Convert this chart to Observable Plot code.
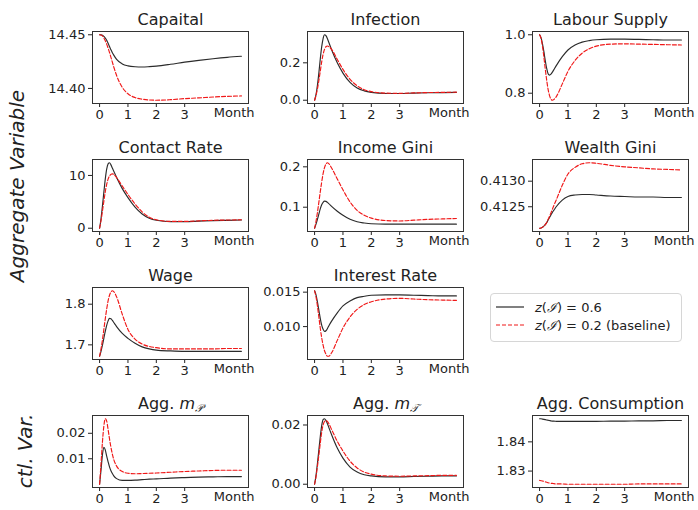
<!DOCTYPE html>
<html><head><meta charset="utf-8">
<script src="https://cdn.jsdelivr.net/npm/d3@7"></script>
<script src="https://cdn.jsdelivr.net/npm/@observablehq/plot@0.6"></script>
<style>
body{margin:0;background:#fff;}
#fig{position:relative;width:698px;height:510px;overflow:hidden;font-family:"DejaVu Sans",sans-serif;color:#222;}
</style></head><body><div id="fig"></div>
<script>
const months = [0,0.05,0.1,0.15,0.2,0.25,0.3,0.35,0.4,0.45,0.5,0.6,0.8,1,1.25,1.5,1.75,2,2.5,3,3.5,4,4.5,5];
const xTicks = [0,1,2,3];
const seriesNames = ["z(I) = 0.6","z(I) = 0.2 (baseline)"];

const capitalZ06 = [14.4500,14.4499,14.4495,14.4485,14.4470,14.4448,14.4420,14.4390,14.4360,14.4333,14.4310,14.4270,14.4228,14.4210,14.4202,14.4200,14.4203,14.4208,14.4225,14.4245,14.4262,14.4277,14.4290,14.4300];
const capitalZ02 = [14.4500,14.4498,14.4490,14.4470,14.4445,14.4413,14.4375,14.4335,14.4290,14.4245,14.4200,14.4120,14.4010,14.3950,14.3915,14.3900,14.3892,14.3890,14.3895,14.3905,14.3912,14.3920,14.3926,14.3930];
const infectionZ06 = [0,0.03,0.08,0.145,0.22,0.285,0.33,0.35,0.345,0.33,0.31,0.27,0.2,0.145,0.095,0.065,0.05,0.042,0.036,0.036,0.038,0.04,0.041,0.042];
const infectionZ02 = [0,0.025,0.06,0.105,0.155,0.205,0.245,0.272,0.286,0.29,0.287,0.272,0.218,0.165,0.112,0.077,0.056,0.046,0.038,0.037,0.039,0.041,0.042,0.043];
const labourZ06 = [1.0,0.99,0.97,0.943,0.912,0.885,0.867,0.862,0.865,0.872,0.88,0.896,0.925,0.948,0.965,0.975,0.980,0.983,0.985,0.985,0.984,0.983,0.982,0.982];
const labourZ02 = [1.0,0.988,0.962,0.925,0.883,0.845,0.813,0.792,0.78,0.776,0.778,0.79,0.832,0.875,0.912,0.937,0.952,0.961,0.968,0.969,0.968,0.967,0.966,0.965];
const contactZ06 = [0,1.8,4.2,6.8,9.3,11.2,12.2,12.4,12.0,11.4,10.8,9.6,7.5,5.8,4.0,2.7,1.9,1.5,1.25,1.25,1.35,1.45,1.5,1.55];
const contactZ02 = [0,1.4,3.2,5.1,6.9,8.3,9.3,9.9,10.2,10.3,10.2,9.6,8.0,6.4,4.6,3.1,2.1,1.6,1.3,1.3,1.4,1.5,1.55,1.6];
const incomeGiniZ06 = [0.048,0.058,0.07,0.083,0.096,0.106,0.112,0.115,0.1145,0.112,0.109,0.102,0.09,0.08,0.07,0.064,0.061,0.059,0.058,0.058,0.058,0.058,0.058,0.058];
const incomeGiniZ02 = [0.048,0.065,0.087,0.112,0.138,0.162,0.183,0.198,0.207,0.21,0.208,0.197,0.17,0.143,0.113,0.092,0.08,0.073,0.067,0.066,0.068,0.07,0.071,0.072];
const wealthGiniZ06 = [0.41208,0.412085,0.4121,0.41212,0.41215,0.41219,0.41224,0.41229,0.41234,0.41239,0.41243,0.41251,0.41263,0.4127,0.41273,0.41274,0.41274,0.41273,0.41271,0.4127,0.41269,0.41269,0.41268,0.41268];
const wealthGiniZ02 = [0.41208,0.412085,0.4121,0.41212,0.41215,0.41219,0.41225,0.41231,0.41238,0.41245,0.41252,0.41265,0.41292,0.41314,0.41327,0.41334,0.41336,0.41335,0.41331,0.41328,0.41326,0.41324,0.41323,0.41322];
const wageZ06 = [1.672,1.684,1.699,1.716,1.733,1.748,1.759,1.765,1.764,1.76,1.755,1.745,1.728,1.716,1.704,1.695,1.69,1.687,1.685,1.684,1.684,1.684,1.684,1.684];
const wageZ02 = [1.672,1.69,1.712,1.738,1.764,1.788,1.808,1.822,1.83,1.833,1.831,1.818,1.775,1.738,1.714,1.702,1.696,1.693,1.69,1.69,1.69,1.69,1.691,1.691];
const interestZ06 = [0.0152,0.0146,0.0136,0.0124,0.0112,0.0102,0.0096,0.0093,0.0094,0.0097,0.0101,0.0108,0.012,0.013,0.0137,0.0142,0.0144,0.01455,0.0146,0.0146,0.01455,0.0145,0.01445,0.01445];
const interestZ02 = [0.0152,0.0143,0.013,0.0114,0.0098,0.0084,0.0073,0.0065,0.006,0.0057,0.0057,0.0062,0.008,0.0098,0.0114,0.0125,0.0132,0.0136,0.014,0.0141,0.014,0.0139,0.01385,0.0138];
const mPZ06 = [0,0.0055,0.0115,0.0145,0.0135,0.011,0.0088,0.0068,0.0053,0.0042,0.0033,0.0022,0.0015,0.0015,0.0016,0.0018,0.002,0.0021,0.0024,0.0026,0.0028,0.0029,0.003,0.003];
const mPZ02 = [0,0.008,0.0165,0.0228,0.0257,0.0248,0.0215,0.0178,0.0145,0.0118,0.0097,0.0071,0.005,0.0043,0.0041,0.0042,0.0043,0.0044,0.0047,0.005,0.0052,0.0054,0.0055,0.0055];
const mTZ06 = [0,0.003,0.007,0.0115,0.016,0.0198,0.0218,0.0221,0.0215,0.0205,0.0192,0.0167,0.0122,0.0088,0.0058,0.0041,0.0032,0.0028,0.0025,0.0025,0.0026,0.0027,0.0028,0.0028];
const mTZ02 = [0,0.0025,0.006,0.0098,0.0138,0.0175,0.02,0.0212,0.0215,0.0212,0.0205,0.0185,0.0145,0.0112,0.0078,0.0055,0.0041,0.0034,0.0028,0.0027,0.0028,0.0029,0.003,0.003];
const consumptionZ06 = [1.8479,1.8479,1.8478,1.8477,1.8476,1.8475,1.8474,1.8473,1.8472,1.8471,1.8471,1.847,1.847,1.847,1.847,1.847,1.847,1.847,1.8471,1.8471,1.8472,1.8472,1.8473,1.8473];
const consumptionZ02 = [1.8268,1.8267,1.8266,1.8265,1.8263,1.8262,1.826,1.8259,1.8258,1.8258,1.8257,1.8256,1.8256,1.8255,1.8255,1.8255,1.8255,1.8255,1.8255,1.8255,1.8256,1.8256,1.8256,1.8256];

const titles = ["Capaital","Infection","Labour Supply","Contact Rate","Income Gini","Wealth Gini","Wage","Interest Rate","Agg. m_P","Agg. m_T","Agg. Consumption"];
const z06 = [capitalZ06,infectionZ06,labourZ06,contactZ06,incomeGiniZ06,wealthGiniZ06,wageZ06,interestZ06,mPZ06,mTZ06,consumptionZ06];
const z02 = [capitalZ02,infectionZ02,labourZ02,contactZ02,incomeGiniZ02,wealthGiniZ02,wageZ02,interestZ02,mPZ02,mTZ02,consumptionZ02];
const yTicks = [[14.40,14.45],[0.0,0.2],[0.8,1.0],[0,10],[0.1,0.2],[0.4125,0.4130],[1.7,1.8],[0.010,0.015],[0.01,0.02],[0.00,0.02],[1.83,1.84]];
const yFormats = [".2f",".1f",".1f","d",".1f",".4f",".1f",".3f",".2f",".2f",".2f"];

// layout
const cells = [[0,0],[0,1],[0,2],[1,0],[1,1],[1,2],[2,0],[2,1],[3,0],[3,1],[3,2]];
const colLeft = [92, 307, 532], rowTop = [31, 159, 287, 415];
const FW = 156, FH = 72, ML = 62, MR = 16, MT = 30, MB = 26;
const fig = document.getElementById("fig");

function panel(i) {
  const a = z06[i].map((v, j) => ({t: months[j], v}));
  const b = z02[i].map((v, j) => ({t: months[j], v}));
  const [lo, hi] = d3.extent(z06[i].concat(z02[i]));
  const pad = (hi - lo) * 0.05;
  const chart = Plot.plot({
    width: ML + FW + MR, height: MT + FH + MB,
    marginLeft: ML, marginRight: MR, marginTop: MT, marginBottom: MB,
    x: {domain: [-0.25, 5.25]},
    y: {domain: [lo - pad, hi + pad]},
    style: {background: "transparent", overflow: "visible", fontFamily: "DejaVu Sans, sans-serif", fontSize: "13px", color: "#222"},
    marks: [
      Plot.axisX({ticks: xTicks, tickSize: 4, tickPadding: 2, label: null, tickFormat: d => String(d), fontSize: 13}),
      Plot.axisY({ticks: yTicks[i], tickSize: 4, tickPadding: 3, label: null, tickFormat: d3.format(yFormats[i]), fontSize: 13}),
      Plot.line(a, {x: "t", y: "v", stroke: "#2b2b2b", strokeWidth: 1.15, curve: "monotone-x"}),
      Plot.line(b, {x: "t", y: "v", stroke: "#f01818", strokeWidth: 1.15, strokeDasharray: "4,2", curve: "monotone-x"}),
      Plot.frame({stroke: "#333", strokeWidth: 1}),
      Plot.text([titles[i]], {text: d => d, frameAnchor: "top", lineAnchor: "bottom", dy: -7, fontSize: 16}),
      Plot.text(["Month"], {text: d => d, frameAnchor: "bottom-right", textAnchor: "end", lineAnchor: "middle", dx: 6, dy: 9, fontSize: 13})
    ]
  });
  const [r, c] = cells[i];
  chart.style.position = "absolute";
  chart.style.left = (colLeft[c] - ML) + "px";
  chart.style.top = (rowTop[r] - MT) + "px";
  const NS = "http://www.w3.org/2000/svg";
  chart.querySelectorAll("text").forEach(el => {
    const m = el.textContent.match(/^Agg\. m_(P|T)$/);
    if (m) {
      el.textContent = "Agg. ";
      const t1 = document.createElementNS(NS, "tspan");
      t1.setAttribute("font-style", "italic"); t1.textContent = "m";
      const t2 = document.createElementNS(NS, "tspan");
      t2.setAttribute("font-size", "11"); t2.setAttribute("dy", "3");
      t2.setAttribute("font-style", "italic");
      t2.textContent = m[1] === "P" ? "\u{1D4AB}" : "\u{1D4AF}";
      el.appendChild(t1); el.appendChild(t2);
    }
  });
  fig.appendChild(chart);
}
for (let i = 0; i < titles.length; i++) panel(i);

// axis group labels
const NS = "http://www.w3.org/2000/svg";
const ov = document.createElementNS(NS, "svg");
ov.setAttribute("width", 698); ov.setAttribute("height", 510);
ov.style.position = "absolute"; ov.style.left = "0"; ov.style.top = "0"; ov.style.pointerEvents = "none";
[["Aggregate Variable", 24, 186], ["ctl. Var.", 32, 451]].forEach(([txt, x, y]) => {
  const t = document.createElementNS(NS, "text");
  t.setAttribute("transform", `translate(${x},${y}) rotate(-90)`);
  t.setAttribute("text-anchor", "middle");
  t.setAttribute("font-size", "20");
  t.setAttribute("font-style", "italic");
  t.setAttribute("font-family", "DejaVu Sans, sans-serif");
  t.setAttribute("fill", "#222");
  t.textContent = txt;
  ov.appendChild(t);
});
fig.appendChild(ov);

// legend
const lg = document.createElement("div");
lg.style.cssText = "position:absolute;left:490px;top:293px;width:190px;height:47px;border:1px solid #d6d6d6;border-radius:4px;background:#fff;font-size:13px;";
const styles = [{stroke: "#2b2b2b", dash: null}, {stroke: "#f01818", dash: "4,2"}];
seriesNames.forEach((name, k) => {
  const row = document.createElement("div");
  row.style.cssText = `position:absolute;left:4px;top:${4 + k * 18}px;height:18px;display:flex;align-items:center;white-space:nowrap;`;
  const sw = `<svg width="30" height="18" style="margin-right:10px"><line x1="1" x2="29" y1="9" y2="9" stroke="${styles[k].stroke}" stroke-width="1.2" ${styles[k].dash ? `stroke-dasharray="${styles[k].dash}"` : ""}/></svg>`;
  const parts = name.match(/^z\(I\)(.*)$/);
  row.innerHTML = sw + `<span><i>z</i>(<span style="font-family:'DejaVu Serif',serif;font-style:italic">\u2110</span>)${parts[1].replace("=", " = ").replace(/\s+/g," ")}</span>`;
  lg.appendChild(row);
});
fig.appendChild(lg);
</script></body></html>
